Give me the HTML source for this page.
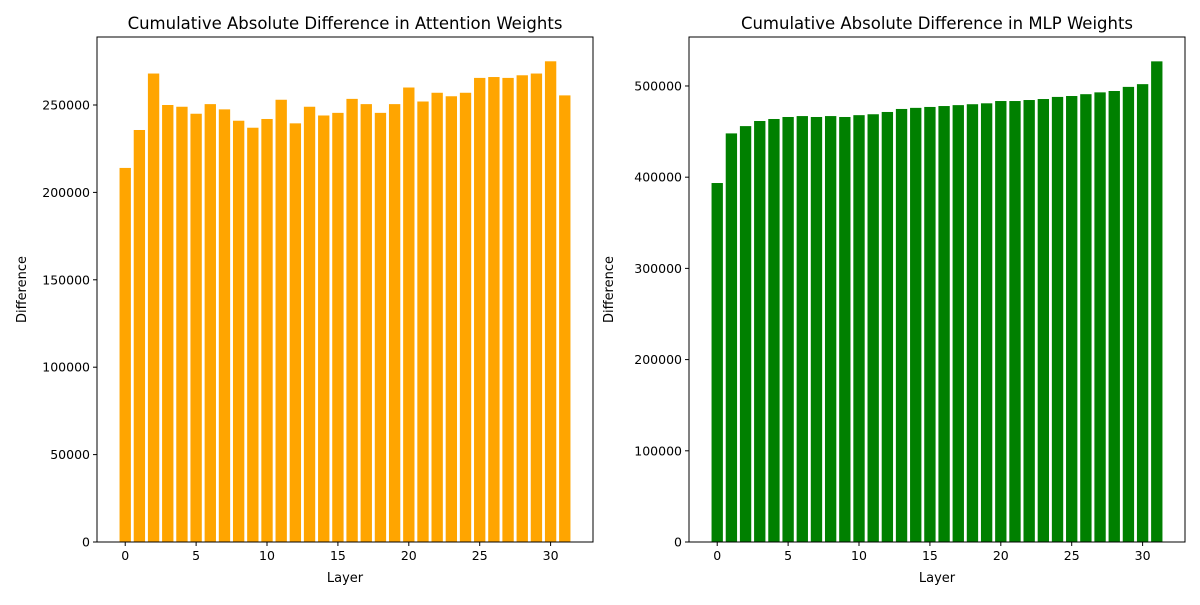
<!DOCTYPE html>
<html><head><meta charset="utf-8"><style>
body{margin:0;background:#fff;font-family:"Liberation Sans","DejaVu Sans",sans-serif}
svg text{font-family:"DejaVu Sans","Liberation Sans",sans-serif;fill:#000}
</style></head><body>
<svg id="c" width="1200" height="600"></svg>
<script>
const layers = Array.from({length:32},(_,i)=>i);
const attnValues = [214000,235700,268000,250000,249000,245000,250500,247500,241000,237000,242000,253000,239500,249000,244000,245500,253500,250500,245500,250500,260000,252000,257000,255000,257000,265500,266000,265500,267000,268000,275000,255500];
const mlpValues = [393600,448000,456000,461600,463800,466000,467000,466000,467000,466000,468000,469000,471500,474800,476000,477000,478000,479000,480000,481000,483500,483500,484600,485700,488000,489000,491000,493000,494500,499000,502000,527000];
const xTicks = [0,5,10,15,20,25,30];
const attnYTicks = [0,50000,100000,150000,200000,250000];
const mlpYTicks = [0,100000,200000,300000,400000,500000];
const NS='http://www.w3.org/2000/svg';
const svg=document.getElementById('c');
function mk(tag,attrs,parent){const e=document.createElementNS(NS,tag);for(const k in attrs)e.setAttribute(k,attrs[k]);(parent||svg).appendChild(e);return e;}
function panel(px,prefix,title,vals,yTicks,ymax,color){
  const L=px,R=px+496,T=37,B=542;
  const g=mk('g',{});
  
  
  const xs=v=>L+(v+1.99)/(32.99+1.99)*(R-L);
  const ys=v=>B-v/ymax*(B-T);
  vals.forEach((v,i)=>{
    const r=mk('rect',{x:xs(layers[i]-0.4),y:ys(v),width:xs(0.8)-xs(0),height:B-ys(v),fill:color},g);
    
    
  });
  const f=mk('rect',{x:L,y:T,width:R-L,height:B-T,fill:'none',stroke:'#000','stroke-width':1},g);
  
  
  xTicks.forEach(t=>{
    const x=xs(t);
    mk('line',{x1:x,x2:x,y1:B,y2:B+4,stroke:'#000'},g);
    const tx=mk('text',{x:x,y:B+18,'text-anchor':'middle','font-size':12.5},g);tx.textContent=t;
    
    
  });
  yTicks.forEach(t=>{
    const y=ys(t);
    mk('line',{x1:L-4,x2:L,y1:y,y2:y,stroke:'#000'},g);
    const tx=mk('text',{x:L-7,y:y+4.5,'text-anchor':'end','font-size':12.5},g);tx.textContent=t;
    
    
  });
  const tt=mk('text',{x:(L+R)/2,y:29,'text-anchor':'middle','font-size':16.5},g);tt.textContent=title;
  
  
  const xl=mk('text',{x:(L+R)/2,y:582,'text-anchor':'middle','font-size':13},g);xl.textContent='Layer';
  
  
  const yx=L-(prefix==='attention'?71:76);
  const yl=mk('text',{x:yx,y:(T+B)/2,'text-anchor':'middle','font-size':13,transform:`rotate(-90 ${yx} ${(T+B)/2})`},g);yl.textContent='Difference';
  
  
}
panel(97,'attention','Cumulative Absolute Difference in Attention Weights',attnValues,attnYTicks,288900,'#ffa500');
panel(689,'mlp','Cumulative Absolute Difference in MLP Weights',mlpValues,mlpYTicks,553700,'#008000');
</script>
</body></html>
